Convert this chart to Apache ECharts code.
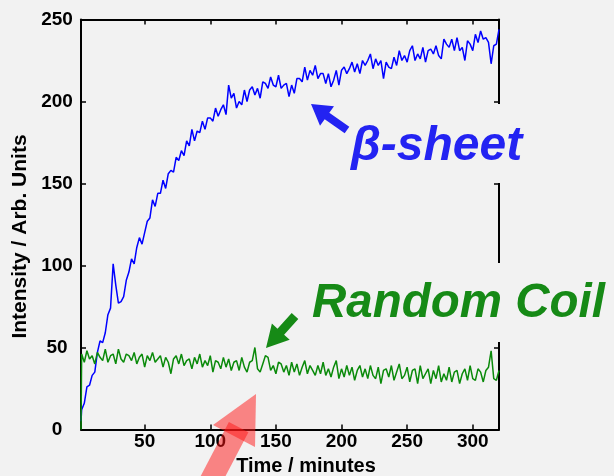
<!DOCTYPE html>
<html>
<head>
<meta charset="utf-8">
<script src="https://cdn.jsdelivr.net/npm/echarts@6/dist/echarts.min.js"></script>
<style>
html, body { margin: 0; padding: 0; background: #f2f2f2; }
#chart { width: 614px; height: 476px; }
</style>
</head>
<body>
<div id="chart"></div>
<script>
// sampling times (minutes)
const TIME = [1.5, 2, 4, 6, 8, 10, 12, 14, 16, 18,
    20, 22, 24, 26, 28, 30, 32, 34, 36, 38,
    40, 42, 44, 46, 48, 50, 52, 54, 56, 58,
    60, 62, 64, 66, 68, 70, 72, 74, 76, 78,
    80, 82, 84, 86, 88, 90, 92, 94, 96, 98,
    100, 102, 104, 106, 108, 110, 112, 114, 116, 118,
    120, 122, 124, 126, 128, 130, 132, 134, 136, 138,
    140, 142, 144, 146, 148, 150, 152, 154, 156, 158,
    160, 162, 164, 166, 168, 170, 172, 174, 176, 178,
    180, 182, 184, 186, 188, 190, 192, 194, 196, 198,
    200, 202, 204, 206, 208, 210, 212, 214, 216, 218,
    220, 222, 224, 226, 228, 230, 232, 234, 236, 238,
    240, 242, 244, 246, 248, 250, 252, 254, 256, 258,
    260, 262, 264, 266, 268, 270, 272, 274, 276, 278,
    280, 282, 284, 286, 288, 290, 292, 294, 296, 298,
    300, 302, 304, 306, 308, 310, 312, 314, 316, 318,
    320];

// beta-sheet intensity (blue trace)
const BETA_SHEET = [5,
    12, 16, 26, 27, 33, 35, 47, 54, 53, 59,
    70, 74, 101, 88, 77, 78, 81, 91, 96, 104,
    101, 111, 117, 113, 120, 127, 129, 140, 136, 144,
    144, 152, 147, 156, 158, 157, 166, 164, 170, 167,
    176, 173, 183, 176, 182, 181, 188, 183, 190, 190,
    188, 196, 191, 195, 198, 192, 210, 202, 205, 196,
    200, 198, 207, 200, 207, 209, 204, 208, 202, 212,
    211, 208, 215, 210, 209, 216, 208, 210, 211, 203,
    210, 205, 214, 214, 212, 221, 213, 219, 216, 222,
    214, 217, 217, 211, 217, 209, 213, 219, 210, 219,
    221, 217, 220, 224, 218, 223, 217, 225, 222, 225,
    229, 220, 226, 222, 225, 214, 224, 221, 220, 227,
    222, 231, 225, 228, 224, 231, 234, 225, 229, 226,
    233, 224, 231, 232, 229, 234, 228, 226, 238, 235,
    233, 238, 231, 239, 231, 233, 225, 237, 235, 231,
    241, 236, 243, 238, 239, 236, 223, 234, 235, 244];

// random coil intensity (green trace)
const RANDOM_COIL = [0,
    46, 41, 48, 43, 45, 40, 47, 44, 42, 49,
    41, 45, 46, 40, 49, 43, 41, 46, 45, 42,
    47, 40, 44, 46, 38, 45, 42, 47, 41, 43,
    45, 38, 44, 41, 34, 43, 45, 40, 46, 39,
    42, 43, 37, 44, 40, 46, 38, 42, 39, 45,
    35, 42, 41, 37, 44, 38, 43, 36, 41, 42,
    36, 44, 38, 35, 41, 42, 50, 37, 35, 40,
    45, 44, 36, 39, 34, 41, 40, 35, 39, 33,
    41, 35, 40, 33, 38, 42, 34, 39, 36, 33,
    39, 34, 41, 33, 37, 32, 38, 42, 31, 37,
    32, 39, 33, 38, 30, 36, 39, 32, 37, 31,
    39, 33, 31, 38, 28, 36, 37, 32, 39, 30,
    35, 40, 31, 33, 38, 29, 36, 37, 28, 39,
    31, 34, 37, 28, 36, 31, 39, 29, 34, 30,
    38, 29, 35, 36, 28, 34, 37, 30, 39, 31,
    30, 37, 35, 29, 36, 38, 48, 31, 30, 36];

const X_TICKS = [50, 100, 150, 200, 250, 300];

const FONT = '"Liberation Sans", Arial, sans-serif';
const BLUE = "#2323f2";
const GREEN = "#168a16";

const chart = echarts.init(document.getElementById("chart"));

const axisLine = { show: true, onZero: false, lineStyle: { color: "#000", width: 2 } };
const tick = { show: true, inside: true, length: 5, lineStyle: { color: "#000", width: 1.5 } };
const tickLabel = { color: "#000", fontFamily: FONT, fontWeight: "bold", fontSize: 19 };

chart.setOption({
    backgroundColor: "#f2f2f2",
    animation: false,
    grid: { left: 81, right: 115, top: 19.5, bottom: 46.5, outerBoundsMode: "none" },
    xAxis: [{
        type: "value", position: "bottom", min: 1.5, max: 320,
        axisLine,
        axisTick: { ...tick, customValues: X_TICKS },
        axisLabel: { ...tickLabel, customValues: X_TICKS, margin: 3 },
        splitLine: { show: false },
        name: "Time / minutes", nameLocation: "middle", nameGap: 27,
        nameTextStyle: { ...tickLabel, fontSize: 20, padding: [0, 0, 0, 32] },
    }, {
        type: "value", position: "top", min: 1.5, max: 320,
        axisLine,
        axisTick: { ...tick, customValues: X_TICKS },
        axisLabel: { show: false },
        splitLine: { show: false },
    }],
    yAxis: [{
        type: "value", position: "left", min: 0, max: 250, interval: 50,
        axisLine, axisTick: tick,
        axisLabel: { ...tickLabel, align: "center", margin: 24 },
        splitLine: { show: false },
        name: "Intensity / Arb. Units", nameLocation: "middle", nameGap: 42,
        nameTextStyle: { ...tickLabel, fontSize: 21, padding: [0, 24, 0, 0] },
    }, {
        type: "value", position: "right", min: 0, max: 250, interval: 50,
        axisLine, axisTick: tick,
        axisLabel: { show: false },
        splitLine: { show: false },
    }],
    series: [{
        name: "β-sheet", type: "line", xAxisIndex: 0, yAxisIndex: 0,
        data: TIME.map((t, i) => [t, BETA_SHEET[i]]),
        showSymbol: false,
        lineStyle: { color: "#0000ff", width: 1.5 },
        itemStyle: { color: "#0000ff" },
    }, {
        name: "Random Coil", type: "line", xAxisIndex: 0, yAxisIndex: 0,
        data: TIME.map((t, i) => [t, RANDOM_COIL[i]]),
        showSymbol: false,
        lineStyle: { color: "#0a8a0a", width: 1.5 },
        itemStyle: { color: "#0a8a0a" },
    }],
    graphic: [
        // label backgrounds hide the right frame behind the labels
        { type: "rect", z: 100, shape: { x: 340, y: 104, width: 200, height: 79 }, style: { fill: "#f2f2f2" } },
        { type: "rect", z: 100, shape: { x: 305, y: 263, width: 309, height: 79 }, style: { fill: "#f2f2f2" } },
        { type: "text", z: 101, x: 351, y: 147,
          style: { text: "β-sheet", fill: BLUE, font: "italic bold 48px " + FONT, verticalAlign: "middle" } },
        { type: "text", z: 101, x: 312, y: 304,
          style: { text: "Random Coil", fill: GREEN, font: "italic bold 47.5px " + FONT, verticalAlign: "middle" } },
        // arrows
        { type: "polygon", z: 102,
          shape: { points: [[311, 104], [334, 106.3], [329.3, 112.8], [349.3, 126.8], [344.7, 133.2], [324.7, 119.2], [320, 125.7]] },
          style: { fill: BLUE } },
        { type: "polygon", z: 102,
          shape: { points: [[266, 348], [289.7, 339.7], [284.1, 334.7], [298.3, 319], [291.7, 313], [277.5, 328.7], [271.9, 323.6]] },
          style: { fill: GREEN } },
        { type: "polygon", z: 103,
          shape: { points: [[256, 394], [255, 447], [213, 425]] },
          style: { fill: "rgba(255,20,20,0.5)" } },
        { type: "polygon", z: 103,
          shape: { points: [[248.4, 432.2], [216, 494.3], [196.5, 484.1], [228.9, 422]] },
          style: { fill: "rgba(255,20,20,0.5)" } },
    ],
});
</script>
</body>
</html>
